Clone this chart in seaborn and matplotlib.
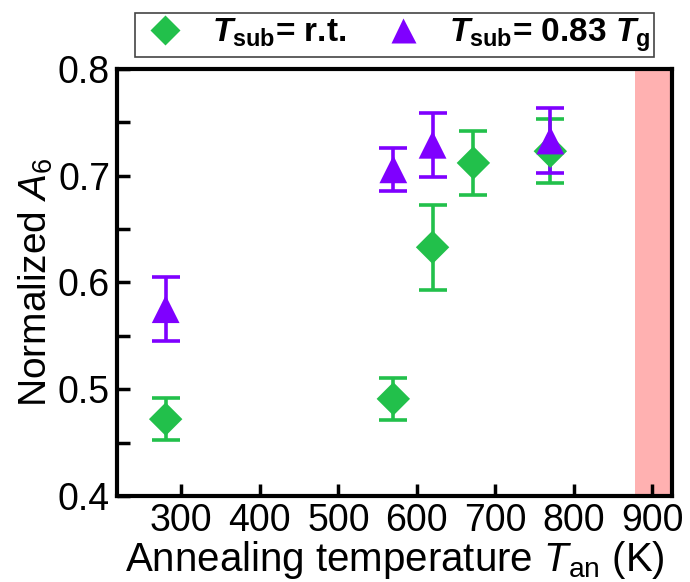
import matplotlib
matplotlib.use("Agg")
import matplotlib.pyplot as plt
import seaborn as sns
import pandas as pd
from matplotlib.lines import Line2D
from matplotlib.ticker import MultipleLocator

# data
temp_rt = [280, 570, 620, 672, 770]
a6_rt = [0.472, 0.491, 0.633, 0.712, 0.723]
err_rt = [0.020, 0.020, 0.040, 0.030, 0.030]

temp_083 = [280, 570, 620, 770]
a6_083 = [0.575, 0.706, 0.729, 0.733]
err_083 = [0.030, 0.020, 0.030, 0.030]

band_start = 878
x_ticks = [300, 400, 500, 600, 700, 800, 900]

green = "#22c04b"
purple = "#7f00ff"

sns.set_theme(style="ticks")
plt.rcParams["font.family"] = ["Liberation Sans", "DejaVu Sans"]
plt.rcParams["mathtext.fontset"] = "custom"
plt.rcParams["mathtext.rm"] = "Liberation Sans"
plt.rcParams["mathtext.it"] = "Liberation Sans:italic"
plt.rcParams["mathtext.bf"] = "Liberation Sans:bold"
plt.rcParams["mathtext.bfit"] = "Liberation Sans:bold:italic"
plt.rcParams["text.color"] = "black"
plt.rcParams["axes.labelcolor"] = "black"
plt.rcParams["xtick.color"] = "black"
plt.rcParams["ytick.color"] = "black"

df = pd.concat([
    pd.DataFrame({"T": temp_rt, "A6": a6_rt, "err": err_rt, "group": "rt"}),
    pd.DataFrame({"T": temp_083, "A6": a6_083, "err": err_083, "group": "083"}),
])

fig = plt.figure(figsize=(6.9, 5.82), dpi=100)
ax = fig.add_axes([117 / 690, 1 - 496 / 582, 555 / 690, 427 / 582])

ax.axvspan(band_start, 930, color="#ffb1b1", lw=0, zorder=0)

colors = {"rt": green, "083": purple}
for name in ["rt", "083"]:
    sub = df[df["group"] == name]
    ax.errorbar(sub["T"], sub["A6"], yerr=sub["err"], fmt="none",
                ecolor=colors[name], elinewidth=2.6, capsize=10, capthick=2.6, zorder=2)

sns.scatterplot(data=df[df["group"] == "rt"], x="T", y="A6", marker="D", s=290,
                color=green, edgecolor="none", ax=ax, zorder=3, legend=False)
sns.scatterplot(data=df[df["group"] == "083"], x="T", y="A6", marker="^", s=400,
                color=purple, edgecolor="none", ax=ax, zorder=3, legend=False)

ax.set_xlim(218, 925)
ax.set_ylim(0.4, 0.8)
ax.set_xticks(x_ticks)
ax.yaxis.set_major_locator(MultipleLocator(0.1))
ax.yaxis.set_minor_locator(MultipleLocator(0.05))
ax.tick_params(axis="both", which="both", direction="in", length=9, width=2.5,
               labelsize=27, top=False, right=False, pad=5)
ax.tick_params(axis="x", which="minor", bottom=False)
for s in ax.spines.values():
    s.set_linewidth(3)
    s.set_color("black")

ax.set_xlabel(r"Annealing temperature $\mathit{T}_{\mathrm{an}}$ (K)", fontsize=29, labelpad=0)
ax.set_ylabel(r"Normalized $\mathit{A}_{6}$", fontsize=28, labelpad=2)

handles = [
    Line2D([], [], ls="none", marker="D", ms=15, color=green, mec="none"),
    Line2D([], [], ls="none", marker="^", ms=18, color=purple, mec="none"),
]
labels = [r"$\mathbfit{T}_{\mathbf{sub}}$= r.t.", r"$\mathbfit{T}_{\mathbf{sub}}$= 0.83 $\mathbfit{T}_{\mathbf{g}}$"]
leg = ax.legend(handles, labels, loc="lower center", bbox_to_anchor=(0.5, 1.0), ncol=2,
                frameon=True, fancybox=False, edgecolor="#444444", framealpha=1,
                prop={"size": 24, "weight": "bold"}, borderpad=0.1, handletextpad=0.6,
                columnspacing=0.9, handlelength=1.6, borderaxespad=0.35)
leg.get_frame().set_linewidth(1.2)

fig.savefig("out.png", dpi=100)
